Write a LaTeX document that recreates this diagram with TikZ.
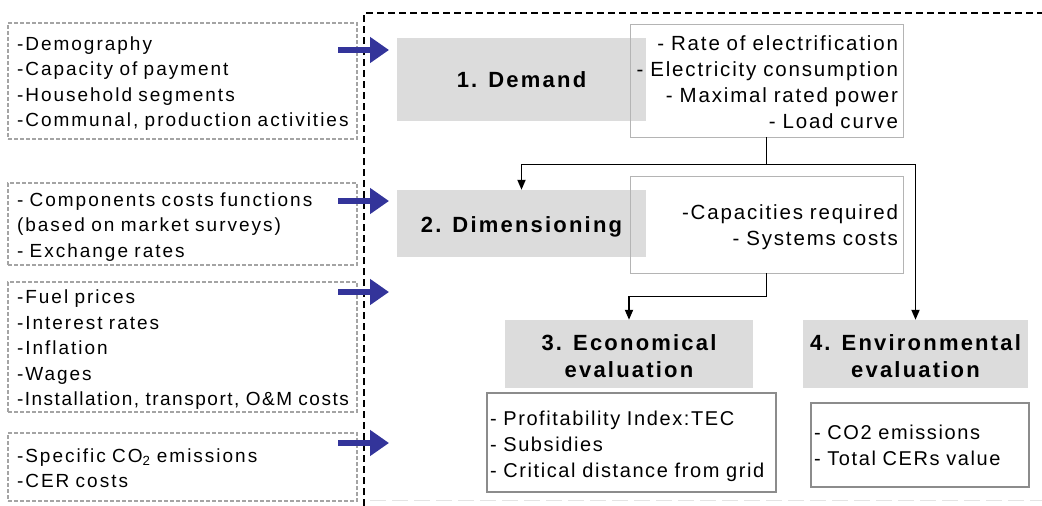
\documentclass[tikz,border=0pt]{standalone}
\usepackage{fontspec}
\setmainfont{Liberation Sans}
\newfontfamily\inputfont[LetterSpace=10.5]{Liberation Sans}
\newfontfamily\inputtightfont[LetterSpace=8]{Liberation Sans}
\newfontfamily\outputfont[LetterSpace=9]{Liberation Sans}
\newfontfamily\resultfont[LetterSpace=8]{Liberation Sans}
\newfontfamily\stagefont[LetterSpace=10]{Liberation Sans}
\usetikzlibrary{arrows.meta}
\definecolor{stagegray}{HTML}{DCDCDC}
\definecolor{inborder}{HTML}{A4A4A4}
\definecolor{outborder}{HTML}{B4B4B4}
\definecolor{resborder}{HTML}{8C8C8C}
\definecolor{feedblue}{HTML}{33349A}
% invisible strut that lifts the top of a text block
\newcommand{\toplift}[1]{\rule{0pt}{#1}}
\begin{document}
\begin{tikzpicture}[x=1pt,y=-1pt,
  inbox/.style={draw=inborder, line width=1.1pt, dash pattern=on 4pt off 2pt,
    inner xsep=9pt, inner ysep=0pt, align=left, text width=331pt,
    minimum width=349pt, font={\inputfont\fontsize{19pt}{25.5pt}\selectfont}},
  stage/.style={fill=stagegray, draw=none, inner sep=0pt, align=center,
    font={\stagefont\bfseries\fontsize{22pt}{27pt}\selectfont}},
  outbox/.style={draw=outborder, line width=0.9pt, inner xsep=5pt, inner ysep=0pt,
    align=right, font={\outputfont\fontsize{20.5pt}{26pt}\selectfont}},
  resbox/.style={draw=resborder, line width=2.4pt, fill=white, inner xsep=3pt,
    inner ysep=0pt, align=left, font={\resultfont\fontsize{20pt}{26pt}\selectfont}},
  link/.style={draw=black, line width=1.8pt},
  linkarrow/.style={link, -{Triangle[length=10pt,width=8pt]}},
  feed/.style={draw=feedblue, line width=6pt, -{Triangle[length=19pt,width=25pt]}},
  frame/.style={draw=black, line width=1.8pt, dash pattern=on 7pt off 4pt},
]
\useasboundingbox (0,0) rectangle (1042,506);

% dashed frame around the model
\coordinate (frameBL) at (364,506);
\coordinate (frameTL) at (364,13);
\coordinate (frameTR) at (1042,13);
\draw[frame] (frameBL) -- (frameTL) -- (frameTR);
\coordinate (baseL) at (370,500);
\coordinate (baseR) at (1042,500);
\draw[gray!22, line width=1pt, dash pattern=on 16pt off 6pt] (baseL) -- (baseR);

% input data
\node[inbox, minimum height=116pt] (in1) at (182.5,81)
  {\toplift{19pt}-Demography\\-Capacity of payment\\-Household segments\\\mbox{-Communal, production activities}};
\node[inbox, minimum height=82pt] (in2) at (182.5,224)
  {\toplift{19pt}\mbox{- Components costs functions}\\(based on market surveys)\\- Exchange rates};
\node[inbox, minimum height=130pt] (in3) at (182.5,347)
  {\toplift{19pt}-Fuel prices\\-Interest rates\\-Inflation\\-Wages\\\mbox{\inputtightfont -Installation, transport, O\&M costs}};
\node[inbox, minimum height=68pt] (in4) at (182.5,467)
  {\toplift{16pt}-Specific CO\textsubscript{2} emissions\\-CER costs};

% model stages
\node[stage, minimum width=249pt, minimum height=83pt] (demand) at (521.5,79.5) {1. Demand};
\node[stage, minimum width=249pt, minimum height=67pt] (dim) at (521.5,223.5) {\toplift{23pt}2. Dimensioning};
\node[stage, minimum width=248pt, minimum height=68pt] (econ) at (629,354) {\toplift{20pt}3. Economical\\evaluation};
\node[stage, minimum width=225pt, minimum height=68pt] (env) at (915.5,354) {\toplift{20pt}4. Environmental\\evaluation};

% stage results
\node[outbox, minimum width=273pt, minimum height=113pt, text width=263pt] (dout) at (766.5,80.5)
  {\toplift{19pt}- Rate of electrification\\- Electricity consumption\\- Maximal rated power\\- Load curve};
\node[outbox, minimum width=273pt, minimum height=97pt, text width=263pt] (dimout) at (766.5,224.5)
  {\toplift{21pt}-Capacities required\\- Systems costs};
\node[resbox, minimum width=289pt, minimum height=99pt, text width=283pt] (econout) at (631.5,442.5)
  {\toplift{23pt}- Profitability Index:TEC\\- Subsidies\\- Critical distance from grid};
\node[resbox, minimum width=218pt, minimum height=84pt, text width=212pt] (envout) at (920,445)
  {- CO2 emissions\\- Total CERs value};

% flow between stages
\path (dout.south) ++(0,27) coordinate (split1);
\draw[link] (dout.south) -- (split1);
\draw[linkarrow] (split1) -| (dim.north);
\draw[linkarrow] (split1) -| (env.north);
\path (dimout.south) ++(0,23) coordinate (split2);
\draw[link] (dimout.south) -- (split2);
\draw[linkarrow] (split2) -| (econ.north);

% data fed into the model
\coordinate (f1) at (338,50);  \coordinate (t1) at (389,50);
\coordinate (f2) at (338,201); \coordinate (t2) at (389,201);
\coordinate (f3) at (338,292); \coordinate (t3) at (389,292);
\coordinate (f4) at (338,443); \coordinate (t4) at (389,443);
\draw[feed] (f1) -- (t1);
\draw[feed] (f2) -- (t2);
\draw[feed] (f3) -- (t3);
\draw[feed] (f4) -- (t4);
\end{tikzpicture}
\end{document}
